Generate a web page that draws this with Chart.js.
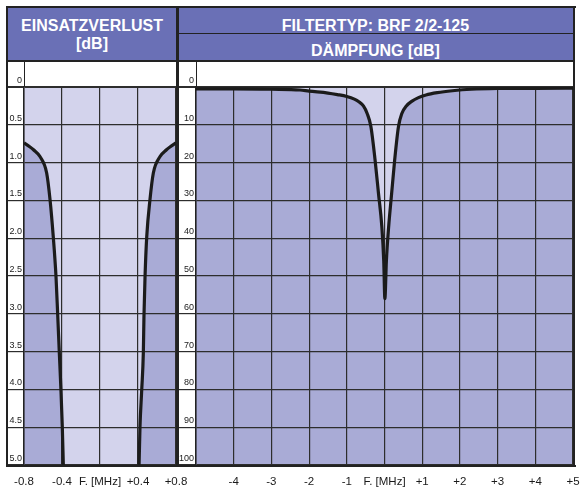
<!DOCTYPE html>
<html lang="de">
<head>
<meta charset="UTF-8">
<title>Filtertyp BRF 2/2-125</title>
<script src="https://cdn.jsdelivr.net/npm/chart.js"></script>
<style>
  body { margin: 0; background: #fff; font-family: "Liberation Sans", Arial, sans-serif; }
  .abs { position: absolute; }
  .head { color: #fff; font-weight: bold; font-size: 16px; line-height: 18px; text-align: center; white-space: nowrap; }
  .ln { position: absolute; background: #222; z-index: 5; }
</style>
</head>
<body>
<!-- Kopfzeilen -->
<div class="abs" style="left:8px;top:8px;width:565px;height:53px;background:#6a70b6"></div>
<div class="abs head" style="left:8px;top:17px;width:168px">EINSATZVERLUST</div>
<div class="abs head" style="left:8px;top:35px;width:168px">[dB]</div>
<div class="abs head" style="left:178px;top:16.5px;width:395px">FILTERTYP: BRF 2/2-125</div>
<div class="abs head" style="left:178px;top:42px;width:395px">DÄMPFUNG [dB]</div>

<!-- Hintergrund der Diagrammflächen -->
<div class="abs" style="left:24px;top:87px;width:152px;height:378px;background:#a9abd6"></div>
<div class="abs" style="left:196px;top:87px;width:377px;height:378px;background:#a9abd6"></div>

<canvas id="verlust" class="abs" style="left:0;top:61px" width="190" height="427"></canvas>
<canvas id="daempfung" class="abs" style="left:177px;top:61px" width="404" height="427"></canvas>

<!-- Rahmen -->
<div class="ln" style="left:6px;top:6px;width:570px;height:2px"></div>
<div class="ln" style="left:6px;top:465px;width:570px;height:2px"></div>
<div class="ln" style="left:6px;top:6px;width:2px;height:461px"></div>
<div class="ln" style="left:573px;top:6px;width:2px;height:461px"></div>
<div class="ln" style="left:176px;top:6px;width:2.5px;height:461px"></div>
<div class="ln" style="left:8px;top:60px;width:565px;height:1.5px"></div>
<div class="ln" style="left:178px;top:32.5px;width:395px;height:1.5px"></div>
<div class="ln" style="left:23.5px;top:61px;width:1.5px;height:26px"></div>
<div class="ln" style="left:195.5px;top:61px;width:1.5px;height:26px"></div>

<script>
// Einsatzverlust (links)
const verlustFreq = [-0.8, -0.74, -0.7, -0.632, -0.561, -0.526, -0.492, -0.463, -0.445, -0.428, -0.411, -0.397, -0.386, -0.36, 0,
                     0.37, 0.411, 0.421, 0.439, 0.456, 0.463, 0.474, 0.492, 0.526, 0.561, 0.632, 0.7, 0.74, 0.8];
const verlustDb = [0.74, 0.79, 0.83, 0.92, 1.14, 1.49, 1.98, 2.51, 3.02, 3.52, 4.01, 4.49, 5.0, 6.2, 20,
                   6.2, 5.0, 4.49, 4.01, 3.52, 3.02, 2.51, 1.98, 1.49, 1.14, 0.92, 0.83, 0.79, 0.74];
const verlustXLabels = ['-0.8', '-0.4', 'F. [MHz]', '+0.4', '+0.8'];
const verlustYLabels = ['0', '0.5', '1.0', '1.5', '2.0', '2.5', '3.0', '3.5', '4.0', '4.5', '5.0'];

// Dämpfung (rechts)
const daempfFreq = [-5, -4, -3, -2.24, -2, -1.5, -1.25, -1.0, -0.8, -0.68, -0.56, -0.46, -0.36, -0.25, -0.16, -0.07, -0.02, 0.01,
                    0.05, 0.11, 0.19, 0.27, 0.37, 0.46, 0.58, 0.72, 0.9, 1.1, 1.4, 1.8, 2.3, 3, 4, 5];
const daempfDb = [0.5, 0.5, 0.6, 0.8, 1.1, 1.6, 2.0, 2.5, 3.2, 3.9, 5.0, 7.0, 10.5, 19.3, 28.1, 37, 46, 56,
                  46, 37, 28.1, 19.3, 10.5, 7.0, 5.0, 3.8, 2.8, 2.1, 1.5, 1.0, 0.6, 0.4, 0.35, 0.3];
const daempfXLabels = ['', '-4', '-3', '-2', '-1', 'F. [MHz]', '+1', '+2', '+3', '+4', '+5'];
const daempfYLabels = ['0', '10', '20', '30', '40', '50', '60', '70', '80', '90', '100'];

function zeichne(id, freq, werte, xMin, xMax, xStep, xLabels, yMax, yStep, yLabels, pad, yBreite) {
  const punkte = freq.map((f, i) => ({x: f, y: werte[i]}));
  new Chart(document.getElementById(id), {
    type: 'line',
    data: {
      datasets: [{
        data: punkte,
        borderColor: '#1b1b1b',
        borderWidth: 3.2,
        pointRadius: 0,
        cubicInterpolationMode: 'monotone',
        fill: 'end',
        backgroundColor: '#d3d3ec',
        clip: 0
      }]
    },
    options: {
      responsive: false,
      animation: false,
      layout: { padding: pad },
      plugins: {
        legend: { display: false },
        tooltip: { enabled: false },
        filler: { drawTime: 'beforeDraw' }
      },
      scales: {
        x: {
          type: 'linear',
          min: xMin, max: xMax,
          afterFit: s => { s.height = 23; s.paddingLeft = 0; s.paddingRight = 0; },
          grid: { color: '#2d2d2d', lineWidth: 1.2, drawTicks: false },
          border: { display: false },
          ticks: {
            stepSize: xStep,
            autoSkip: false,
            maxRotation: 0,
            padding: 10,
            color: '#1a1a1a',
            font: { family: '"Liberation Sans", Arial, sans-serif', size: 11.5 },
            callback: v => xLabels[Math.round((v - xMin) / xStep)]
          }
        },
        y: {
          type: 'linear',
          reverse: true,
          min: 0, max: yMax,
          afterFit: s => { s.width = yBreite; s.paddingTop = 0; s.paddingBottom = 0; },
          grid: {
            color: '#2d2d2d',
            lineWidth: ctx => (ctx.tick && ctx.tick.value === 0) ? 2 : 1.2,
            tickLength: yBreite,
            tickColor: '#2d2d2d'
          },
          border: { display: true, color: '#222', width: 1.5 },
          ticks: {
            stepSize: yStep,
            padding: 2 - yBreite,
            labelOffset: -6.5,
            color: '#222',
            font: { family: '"Liberation Sans", Arial, sans-serif', size: 9 },
            callback: v => yLabels[Math.round(v / yStep)]
          }
        }
      }
    }
  });
}

zeichne('verlust', verlustFreq, verlustDb, -0.8, 0.8, 0.4, verlustXLabels, 5, 0.5, verlustYLabels,
        {left: 7, top: 26, right: 14, bottom: 0}, 17);
zeichne('daempfung', daempfFreq, daempfDb, -5, 5, 1, daempfXLabels, 100, 10, daempfYLabels,
        {left: 1, top: 26, right: 8, bottom: 0}, 18);
</script>
</body>
</html>
